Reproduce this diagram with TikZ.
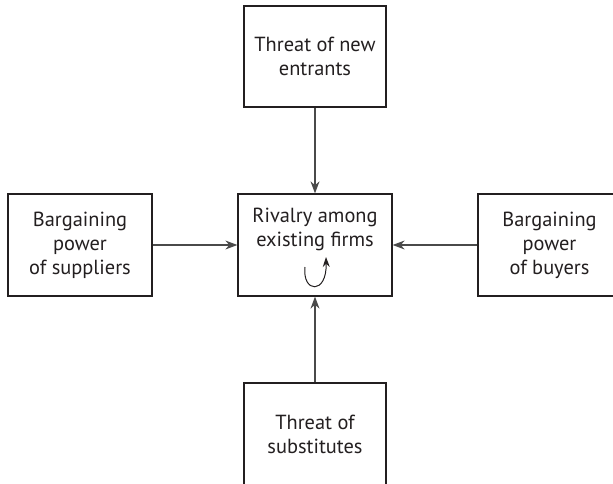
\documentclass[tikz,border=0pt]{standalone}
\usepackage{fontspec}
\setmainfont{PT Sans}
\usetikzlibrary{arrows.meta}
\definecolor{ink}{HTML}{231F20}
\definecolor{wire}{HTML}{4A4A4A}
\tikzset{
  force/.style={draw=ink, line width=1.3pt, fill=white, align=center,
    text=ink, font=\fontsize{20.4}{24}\selectfont, inner sep=0pt},
  push/.style={draw=wire, line width=1.2pt,
    -{Stealth[length=12pt,width=9pt]}},
  spin/.style={draw=ink, line width=1pt,
    -{Stealth[length=10pt,width=7pt]}}
}
\begin{document}
\begin{tikzpicture}[x=1pt,y=-1pt]
  \useasboundingbox (0,0) rectangle (613,484);
  \clip (0,0) rectangle (613,484);
  \fill[white] (0,0) rectangle (613,484);

  % the five forces
  \node[force, minimum width=142pt, minimum height=101pt] (entrants) at (315,56.5)
    {Threat of new\\entrants};
  \node[force, minimum width=154pt, minimum height=102pt] (rivalry) at (315,245)
    {Rivalry among\\existing firms\\[12pt]\mbox{}};
  \node[force, minimum width=144pt, minimum height=102pt] (suppliers) at (80,245)
    {Bargaining\\power\\of suppliers};
  \node[force, minimum width=143pt, minimum height=102pt] (buyers) at (549.5,245)
    {Bargaining\\power\\of buyers};
  \node[force, minimum width=142pt, minimum height=102pt] (substitutes) at (315,434)
    {Threat of\\substitutes};

  % pressures acting on the industry
  \draw[push] (entrants.south) -- (rivalry.north);
  \draw[push] (suppliers.east) -- (rivalry.west);
  \draw[push] (buyers.west) -- (rivalry.east);
  \draw[push] (substitutes.north) -- (rivalry.south);

  % internal rivalry loop
  \coordinate (loopA) at (305,267);
  \coordinate (loopB) at (326,257);
  \draw[spin] (loopA) .. controls (302,293) and (327,295) .. (loopB);
\end{tikzpicture}
\end{document}
